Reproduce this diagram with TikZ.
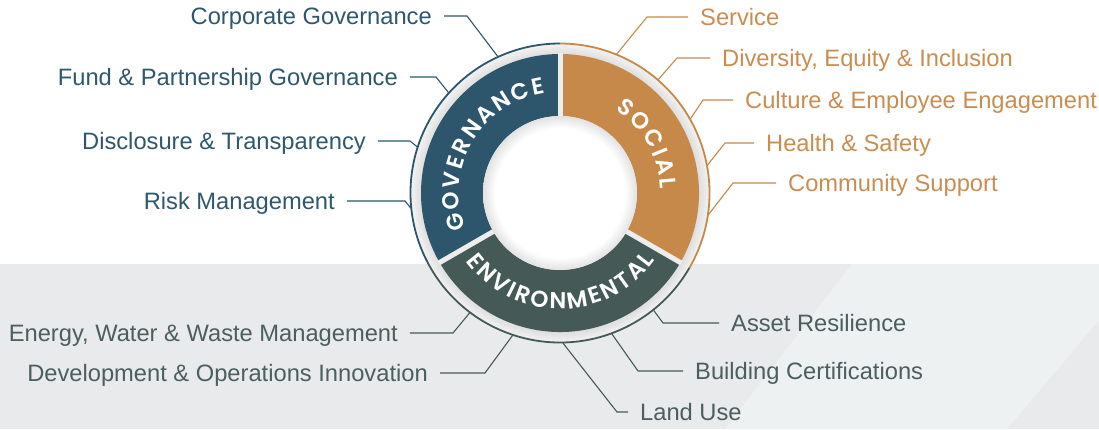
\documentclass[tikz,border=0pt]{standalone}
\usepackage{fontspec}
\setmainfont{Liberation Sans}
\newfontfamily\ringfont{Poppins SemiBold}
\usetikzlibrary{positioning, decorations.text}

\definecolor{govblue}{HTML}{2D566D}
\definecolor{socorange}{HTML}{C6894A}
\definecolor{envgreen}{HTML}{455A56}
\definecolor{govtext}{HTML}{2F586E}
\definecolor{soctext}{HTML}{C98D51}
\definecolor{envtext}{HTML}{4B5F5C}
\definecolor{bandgray}{HTML}{E9EAEC}
\definecolor{bandlight}{HTML}{EEF1F2}
\definecolor{ringgap}{HTML}{EDEDED}
\definecolor{shadowdark}{HTML}{DCDCDC}
\definecolor{shadowlight}{HTML}{F4F4F4}
\definecolor{holerim}{HTML}{E2E2E2}

\pgfdeclareradialshading{ringshadow}{\pgfpointorigin}{color(0bp)=(white); color(23bp)=(shadowdark); color(25bp)=(shadowlight); color(50bp)=(shadowlight)}
\pgfdeclareradialshading{holeshadow}{\pgfpointorigin}{color(0bp)=(white); color(21bp)=(white); color(25bp)=(holerim); color(50bp)=(holerim)}

% spaced capitals: the space between letters is the tracking
\newcommand\ringtype{\ringfont\fontsize{23}{27}\selectfont\fontdimen2\font=2.4pt\fontdimen3\font=0pt\fontdimen4\font=0pt}

\begin{document}
\begin{tikzpicture}[x=1pt, y=1pt,
  topic/.style={font=\fontsize{23.7}{28}\selectfont, inner sep=0pt, text height=17pt, text depth=0pt},
  govtopic/.style={topic, text=govtext, anchor=east},
  soctopic/.style={topic, text=soctext, anchor=west},
  envleft/.style={topic, text=envtext, anchor=east},
  envright/.style={topic, text=envtext, anchor=west},
  lead/.style={line width=1.1pt},
  pillar/.style={decorate, decoration={text along path, text align=center, text color=white, text={|\ringtype|#1}}}]

% Sizes
\def\rin{77}
\def\rout{139}
\def\rline{149.5}

% Page and lower band
\useasboundingbox (-560,-236) rectangle (539,193);
\fill[white] (-560,-236) rectangle (539,193);
\fill[bandgray] (-560,-236) rectangle (539,-71);
\fill[bandlight] (292,-71) -- (539,-71) -- (539,-127) -- (447,-236) -- (165,-236) -- cycle;

% Ring body
\shade[shading=ringshadow] (0,0) circle (150);
\foreach \a/\b/\c in {90/210/govblue, -30/90/socorange, 210/330/envgreen} {
  \fill[\c] (\a:\rout) arc[start angle=\a, end angle=\b, radius=\rout]
    -- (\b:\rin) arc[start angle=\b, end angle=\a, radius=\rin] -- cycle;
}
\foreach \a in {90, 210, 330} {
  \draw[ringgap, line width=5pt] (\a:\rin-1) -- (\a:\rout+1);
}
\shade[shading=holeshadow] (0,0) circle (\rin);

% Outer rim, one colour per pillar
\foreach \a/\b/\c in {90/207.5/govblue, -30/90/socorange, 207.5/330/envgreen} {
  \draw[\c, line width=1.8pt] (\a:\rline) arc[start angle=\a, end angle=\b, radius=\rline];
}

% Pillar names along the ring
\path[pillar={G O V E R N A N C E}] (239.5:101) arc[start angle=239.5, end angle=59.5, radius=101];
\path[pillar={S O C I A L}] (119.3:100.5) arc[start angle=119.3, end angle=-60.7, radius=100.5];
\path[pillar={E N V I R O N M E N T A L}] (180.3:116) arc[start angle=180.3, end angle=360.3, radius=116];

% Governance topics
\foreach \name/\x/\y/\txt in {
  cg/-128/177/Corporate Governance,
  fpg/-162/116/Fund \& Partnership Governance,
  dt/-194/52/Disclosure \& Transparency,
  rm/-225/-8/Risk Management} {
  \node[govtopic] (\name) at (\x,\y) {\txt};
}
\foreach \name/\ang/\len in {cg/114.5/23, fpg/138/26, dt/162.1/32, rm/185.8/58} {
  \coordinate (\name-r) at (\ang:150);
  \draw[lead, govblue] (\name-r) -- ([xshift=12+\len]\name.east) -- ([xshift=12]\name.east);
}

% Social topics
\foreach \name/\x/\y/\txt in {
  sv/140/176/Service,
  dei/162/135/{Diversity, Equity \& Inclusion},
  cee/185/93/Culture \& Employee Engagement,
  hs/206/50/Health \& Safety,
  cs/228/10/Community Support} {
  \node[soctopic] (\name) at (\x,\y) {\txt};
}
\foreach \name/\ang/\len in {sv/67.8/41, dei/49.1/33, cee/29.6/30, hs/10.7/29, cs/-8.3/43} {
  \coordinate (\name-r) at (\ang:150);
  \draw[lead, socorange] (\name-r) -- ([xshift=-12-\len]\name.west) -- ([xshift=-12]\name.west);
}

% Environmental topics
\foreach \name/\x/\y/\txt in {
  ar/171/-130/Asset Resilience,
  bc/135/-178/Building Certifications,
  lu/80/-219/Land Use} {
  \node[envright] (\name) at (\x,\y) {\txt};
}
\foreach \name/\x/\y/\txt in {
  eww/-162/-140/{Energy, Water \& Waste Management},
  doi/-132/-180/Development \& Operations Innovation} {
  \node[envleft] (\name) at (\x,\y) {\txt};
}
\foreach \name/\ang/\len in {ar/-51.4/56, bc/-69.8/45, lu/-88.9/11} {
  \coordinate (\name-r) at (\ang:150);
  \draw[lead, envgreen] (\name-r) -- ([xshift=-12-\len]\name.west) -- ([xshift=-12]\name.west);
}
\foreach \name/\ang/\len in {eww/-127/43, doi/-108.4/45} {
  \coordinate (\name-r) at (\ang:150);
  \draw[lead, envgreen] (\name-r) -- ([xshift=12+\len]\name.east) -- ([xshift=12]\name.east);
}

\end{tikzpicture}
\end{document}
